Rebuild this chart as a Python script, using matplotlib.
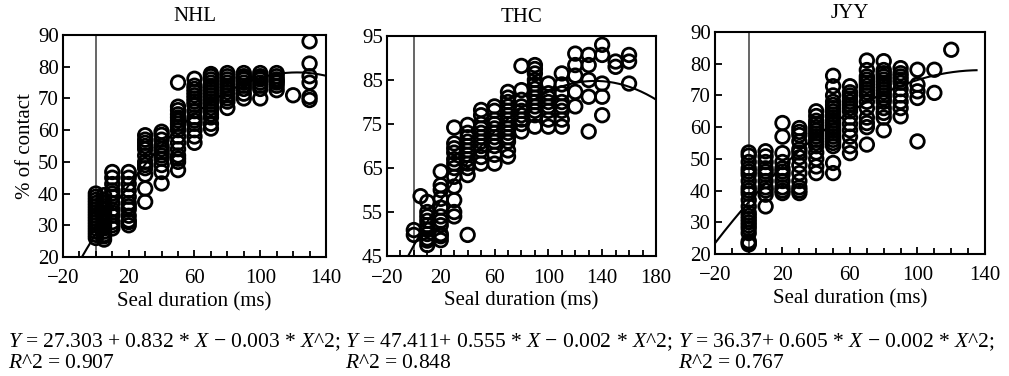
import numpy as np
import matplotlib
matplotlib.use("Agg")
import matplotlib.pyplot as plt
from matplotlib.ticker import MultipleLocator

plt.rcParams['font.family'] = ['Liberation Serif', 'DejaVu Serif']
plt.rcParams['mathtext.fontset'] = 'custom'
plt.rcParams['mathtext.rm'] = 'Liberation Serif'
plt.rcParams['mathtext.it'] = 'Liberation Serif:italic'

# seal duration groups (ms) and % of contact per group, one set per speaker
nhl_x = [0, 5, 10, 20, 30, 40, 50, 60, 70, 80, 90, 100, 110, 120, 130]
nhl_y = [
    [26, 27, 28, 29, 30, 31, 32, 33, 34, 35, 36, 37, 38, 39, 40],
    [25.5, 26.5, 27, 28, 29, 30, 31, 32, 33, 34, 35, 36, 37, 38, 39.5],
    [29, 30, 31, 33, 34, 35, 37, 39, 40, 41, 43, 45, 46.8],
    [30, 31, 31.5, 33, 35, 36, 37, 39, 41, 43, 45, 46.8],
    [37.4, 41.6, 46, 48, 49, 50, 52, 54, 55, 56, 57, 58.4],
    [43.2, 46.8, 49, 51, 52, 53, 54, 55, 57, 58.5, 59.5],
    [47.4, 50, 51, 52, 54, 56, 58, 60, 61, 62, 63, 64, 65, 66.3, 67.4, 75],
    [56, 58, 60, 62, 63, 64, 66, 68, 69, 70, 71, 72, 73, 74, 76.2],
    [60.5, 62, 64, 65, 66, 67, 68, 69, 70, 71, 72, 73, 74, 75, 76, 77, 77.7],
    [67, 69, 70, 71, 72, 73, 74, 75, 76, 77, 78],
    [70, 71.5, 73, 74, 75, 76, 76.5, 77, 78],
    [70, 73, 74, 75, 76, 76.5, 77, 78],
    [72.6, 74, 75, 75.5, 76, 77, 78],
    [71],
    [69.5, 70.5, 75, 77, 81, 88],
]

thc_x = [0, 5, 10, 20, 30, 40, 50, 60, 70, 80, 90, 100, 110, 120, 130, 140, 150, 160]
thc_y = [
    [49.8, 50.9],
    [58.6],
    [47.5, 48.5, 49, 50, 51, 52, 53, 54, 55, 57.3],
    [48.6, 49.5, 50, 52, 53, 54, 56, 58, 60, 61.1, 64.2],
    [54, 55, 57.7, 60.8, 63, 65, 66, 67, 68.5, 69.5, 70.6, 74.2],
    [49.8, 63.4, 65, 66, 67, 68, 69, 70, 71, 72, 73, 74.8],
    [66, 67.5, 69, 70, 71, 72, 73, 74, 75, 77, 78.2],
    [66, 68, 70, 71, 72, 73, 74, 75, 76, 78, 79],
    [67.6, 69, 71, 72, 73, 74, 75, 76, 77, 78, 79, 80, 81, 82.3],
    [73.3, 75, 76, 77, 78, 79, 80.5, 82.7, 88.2],
    [74.4, 77, 78, 79, 80, 81, 82, 83, 84, 85, 86.5, 87.5, 88.4],
    [74.4, 76, 78, 79, 80, 81, 82, 84.2],
    [74.4, 76, 78, 79, 80, 82, 84, 86.5],
    [79, 82.3, 86, 88.4, 91],
    [73.3, 81.2, 85, 88.4, 90.7],
    [77, 81.2, 84.2, 90.7, 93],
    [88, 89.2],
    [84.2, 89.2, 90.7],
]

jyy_x = [0, 10, 20, 30, 40, 50, 60, 70, 80, 90, 100, 110, 120]
jyy_y = [
    [23, 23.5, 24, 26.6, 28, 29, 30, 31, 32, 33, 35, 37, 39, 40, 41, 43, 45,
     46, 47, 49, 51, 52],
    [35, 38.7, 40, 41, 43, 45, 46, 47, 49, 50.8, 52.4],
    [39.2, 40, 41, 43, 45, 46, 47, 49, 51.8, 57, 61.3],
    [39.2, 40, 41, 43, 45.5, 48, 50.5, 52, 53, 55.5, 57.5, 58.5, 59.7],
    [45.5, 47.6, 50, 52, 54, 55, 56, 57, 58, 59, 60, 61, 62, 63.5, 65],
    [45.5, 48.7, 54, 55, 56, 57, 58, 59, 60, 61, 62, 63, 64, 65, 66, 67,
     68, 70, 72.9, 76.2],
    [51.8, 54, 57, 59, 61, 63, 65, 66, 67, 68, 69, 70, 71, 72.9],
    [54.5, 60, 61.3, 63, 66, 68, 70, 71, 72, 73, 74, 75, 76, 78, 81],
    [59, 63, 64.5, 66, 68, 69, 70, 71, 72, 73, 74, 75, 76, 77, 78, 80.8],
    [63.4, 66, 68, 70, 72, 74, 75, 76, 77, 78.6],
    [55.5, 69.2, 71.3, 73.4, 78.1],
    [70.8, 78.1],
    [84.4],
]

# quadratic fits: intercept, linear, squared term
nhl_fit = [27.303, 0.832, -0.0034]
thc_fit = [47.411, 0.555, -0.00206]
jyy_fit = [36.37, 0.605, -0.0022]
r2 = [0.907, 0.848, 0.767]

panels = [
    ("NHL", nhl_x, nhl_y, nhl_fit, (-20, 140), (20, 90), 10, 140, " + "),
    ("THC", thc_x, thc_y, thc_fit, (-20, 180), (45, 95), 10, 180, "+ "),
    ("JYY", jyy_x, jyy_y, jyy_fit, (-20, 140), (20, 90), 10, 135, "+ "),
]
boxes = [
    [0.0624, 0.3165, 0.2607, 0.5904],
    [0.3835, 0.3191, 0.2666, 0.5851],
    [0.7086, 0.3245, 0.2676, 0.5904],
]
eq_x = [0.008, 0.342, 0.672]

fig = plt.figure(figsize=(10.09, 3.76), dpi=100)

for i, (name, gx, gy, fit, xl, yl, ystep, xend, plus) in enumerate(panels):
    ax = fig.add_axes(boxes[i])
    px, py = [], []
    for xv, ys in zip(gx, gy):
        px += [xv] * len(ys)
        py += ys
    ax.axvline(0, color='0.35', lw=1.3, zorder=1)
    ax.scatter(px, py, s=95, facecolors='none', edgecolors='black',
               linewidths=2.0, zorder=3)
    cx = np.linspace(xl[0], xend, 200)
    cy = fit[0] + fit[1] * cx + fit[2] * cx ** 2
    ax.plot(cx, cy, color='black', lw=1.5, zorder=2)

    ax.set_xlim(*xl)
    ax.set_ylim(*yl)
    ax.set_xticks(np.arange(xl[0], xl[1] + 1, 40))
    ax.xaxis.set_minor_locator(MultipleLocator(10))
    ax.set_yticks(np.arange(yl[0], yl[1] + 1, ystep))
    ax.tick_params(axis='both', which='both', direction='in', labelsize=15,
                   top=False, right=False, width=1.3)
    ax.tick_params(axis='x', which='major', length=5, pad=9)
    ax.tick_params(axis='x', which='minor', length=4)
    ax.tick_params(axis='y', length=5, pad=3)
    for sp in ax.spines.values():
        sp.set_linewidth(1.5)

    ax.set_title(name, fontsize=15, pad=10)
    ax.set_xlabel("Seal duration (ms)", fontsize=15, labelpad=3)
    if i == 0:
        ax.set_ylabel("% of contact", fontsize=15, labelpad=2)

    eq = (r"$\mathit{Y}$ = %g%s%g * $\mathit{X}$ − %.3f * $\mathit{X}$^2;"
          % (fit[0], plus, fit[1], abs(fit[2])))
    fig.text(eq_x[i], 1 - 342 / 376, eq, fontsize=15.5, va='center', ha='left')
    fig.text(eq_x[i], 1 - 364 / 376, r"$\mathit{R}$^2 = %.3f" % r2[i],
             fontsize=15.5, va='center', ha='left')

fig.savefig("out.png", dpi=100)
